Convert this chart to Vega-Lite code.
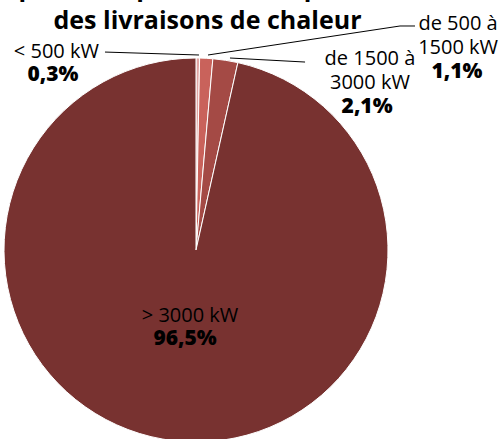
{
  "$schema": "https://vega.github.io/schema/vega-lite/v6.json",
  "width": 501,
  "height": 439,
  "autosize": {"type": "none"},
  "padding": 0,
  "background": "white",
  "view": {"stroke": null},
  "title": {
    "text": ["Répartition par classe de puissance", "des livraisons de chaleur"],
    "font": "Open Sans",
    "fontSize": 25,
    "fontWeight": "bold",
    "color": "black",
    "anchor": "middle",
    "dx": -43,
    "offset": -34,
    "lineHeight": 33
  },
  "data": {
    "values": [
      {"ordre": 1, "classe": "< 500 kW", "etiquette": "< 500 kW", "part": 0.3, "texte_part": "0,3%"},
      {"ordre": 2, "classe": "de 500 à 1500 kW", "etiquette": "de 500 à\n1500 kW", "part": 1.1, "texte_part": "1,1%"},
      {"ordre": 3, "classe": "de 1500 à 3000 kW", "etiquette": "de 1500 à\n3000 kW", "part": 2.1, "texte_part": "2,1%"},
      {"ordre": 4, "classe": "> 3000 kW", "etiquette": "> 3000 kW", "part": 96.5, "texte_part": "96,5%"}
    ]
  },
  "layer": [
    {
      "mark": {"type": "arc", "outerRadius": 192, "stroke": "white", "strokeWidth": 1},
      "encoding": {
        "x": {"datum": 0, "type": "quantitative", "scale": {"domain": [-1.0208, 1.5885], "nice": false, "zero": false}, "axis": null},
        "y": {"datum": 0, "type": "quantitative", "scale": {"domain": [-0.9844, 1.3021], "nice": false, "zero": false}, "axis": null},
        "theta": {"field": "part", "type": "quantitative", "stack": true},
        "order": {"field": "ordre", "type": "quantitative"},
        "color": {
          "field": "classe",
          "type": "nominal",
          "scale": {
            "domain": ["< 500 kW", "de 500 à 1500 kW", "de 1500 à 3000 kW", "> 3000 kW"],
            "range": ["#E0A5A3", "#C9625B", "#A44A45", "#783230"]
          },
          "legend": null
        }
      }
    },
    {
      "mark": {"type": "rule", "color": "black", "strokeWidth": 1},
      "transform": [{"filter": "datum.ordre == 1"}],
      "encoding": {
        "x": {"datum": -0.474}, "y": {"datum": 1.031},
        "x2": {"datum": 0.0156}, "y2": {"datum": 1.0156}
      }
    },
    {
      "mark": {"type": "rule", "color": "black", "strokeWidth": 1},
      "transform": [{"filter": "datum.ordre == 2"}],
      "encoding": {
        "x": {"datum": 0.0625}, "y": {"datum": 1.0156},
        "x2": {"datum": 1.0625}, "y2": {"datum": 1.1667}
      }
    },
    {
      "mark": {"type": "rule", "color": "black", "strokeWidth": 1},
      "transform": [{"filter": "datum.ordre == 2"}],
      "encoding": {
        "x": {"datum": 1.0625}, "y": {"datum": 1.1667},
        "x2": {"datum": 1.1406}, "y2": {"datum": 1.1667}
      }
    },
    {
      "mark": {"type": "rule", "color": "black", "strokeWidth": 1},
      "transform": [{"filter": "datum.ordre == 3"}],
      "encoding": {
        "x": {"datum": 0.177}, "y": {"datum": 1.0},
        "x2": {"datum": 0.568}, "y2": {"datum": 0.979}
      }
    },
    {
      "mark": {"type": "text", "font": "Open Sans", "fontSize": 20, "align": "center", "baseline": "alphabetic", "lineBreak": "\n", "lineHeight": 24, "color": "black"},
      "transform": [{"filter": "datum.ordre == 1"}],
      "encoding": {"x": {"datum": -0.727}, "y": {"datum": 1.0}, "text": {"field": "etiquette"}}
    },
    {
      "mark": {"type": "text", "font": "Open Sans", "fontSize": 21, "fontWeight": 800, "align": "center", "baseline": "alphabetic", "color": "black"},
      "transform": [{"filter": "datum.ordre == 1"}],
      "encoding": {"x": {"datum": -0.745}, "y": {"datum": 0.88}, "text": {"field": "texte_part"}}
    },
    {
      "mark": {"type": "text", "font": "Open Sans", "fontSize": 20, "align": "center", "baseline": "alphabetic", "lineBreak": "\n", "lineHeight": 24, "color": "black"},
      "transform": [{"filter": "datum.ordre == 2"}],
      "encoding": {"x": {"datum": 1.365}, "y": {"datum": 1.146}, "text": {"field": "etiquette"}}
    },
    {
      "mark": {"type": "text", "font": "Open Sans", "fontSize": 21, "fontWeight": 800, "align": "center", "baseline": "alphabetic", "color": "black"},
      "transform": [{"filter": "datum.ordre == 2"}],
      "encoding": {"x": {"datum": 1.359}, "y": {"datum": 0.896}, "text": {"field": "texte_part"}}
    },
    {
      "mark": {"type": "text", "font": "Open Sans", "fontSize": 20, "align": "center", "baseline": "alphabetic", "lineBreak": "\n", "lineHeight": 24, "color": "black"},
      "transform": [{"filter": "datum.ordre == 3"}],
      "encoding": {"x": {"datum": 0.906}, "y": {"datum": 0.964}, "text": {"field": "etiquette"}}
    },
    {
      "mark": {"type": "text", "font": "Open Sans", "fontSize": 21, "fontWeight": 800, "align": "center", "baseline": "alphabetic", "color": "black"},
      "transform": [{"filter": "datum.ordre == 3"}],
      "encoding": {"x": {"datum": 0.891}, "y": {"datum": 0.714}, "text": {"field": "texte_part"}}
    },
    {
      "mark": {"type": "text", "font": "Open Sans", "fontSize": 20, "align": "center", "baseline": "alphabetic", "color": "black"},
      "transform": [{"filter": "datum.ordre == 4"}],
      "encoding": {"x": {"datum": -0.031}, "y": {"datum": -0.375}, "text": {"field": "etiquette"}}
    },
    {
      "mark": {"type": "text", "font": "Open Sans", "fontSize": 21, "fontWeight": 800, "align": "center", "baseline": "alphabetic", "color": "black"},
      "transform": [{"filter": "datum.ordre == 4"}],
      "encoding": {"x": {"datum": -0.057}, "y": {"datum": -0.495}, "text": {"field": "texte_part"}}
    }
  ]
}
